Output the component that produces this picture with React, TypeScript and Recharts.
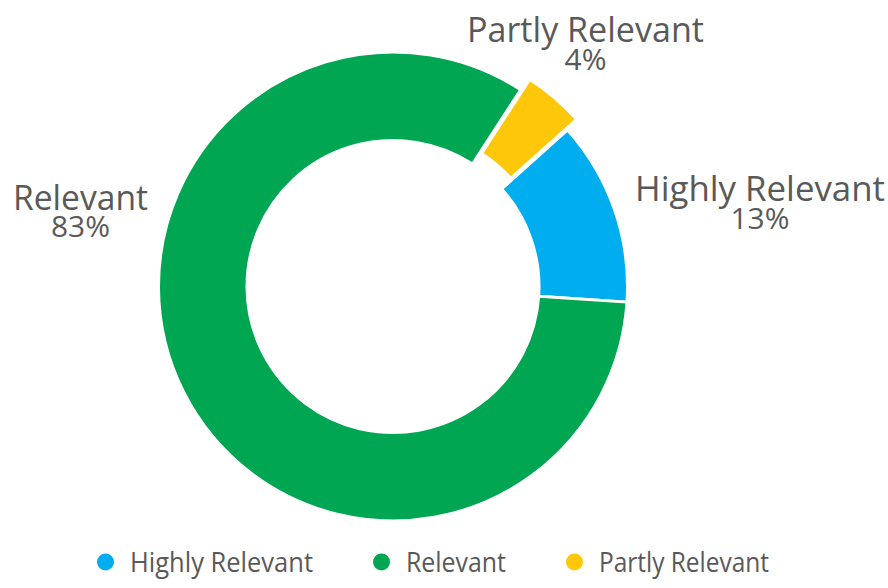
import { PieChart, Pie, Cell, Legend } from 'recharts';

const categories = ['Highly Relevant', 'Relevant', 'Partly Relevant'];
const shares = [12.7, 83.1, 4.2];
const colors = ['#00ADEF', '#00A651', '#FFC709'];
const exploded = [false, false, true];

const data = categories.map((name, i) => ({ name, value: shares[i] }));

const CX = 393;
const CY = 286.5;
const START = 41.9;
const EXPLODE = 14;
const TEXT = '#595959';
const FONT = '"Open Sans", sans-serif';

// label anchors relative to the pie centre (name baseline), plus target text widths
const labelSpots = [
  { dx: 367, dy: -85.5, gap: 28, nameW: 250, pctW: 59 },
  { dx: -312.5, dy: -76.5, gap: 27, nameW: 135, pctW: 59 },
  { dx: 192.5, dy: -244.5, gap: 28, nameW: 237, pctW: 42 },
];

// mid angle of the exploded slice, used to push the second pie outwards
const total = shares.reduce((a, b) => a + b, 0);
const explodedIndex = exploded.indexOf(true);
const before = shares.slice(0, explodedIndex).reduce((a, b) => a + b, 0);
const midAngle = START - ((before + shares[explodedIndex] / 2) / total) * 360;
const rad = (midAngle * Math.PI) / 180;
const offX = EXPLODE * Math.cos(rad);
const offY = -EXPLODE * Math.sin(rad);

const renderLabel = (props: any) => {
  const { cx, cy, index, percent, name } = props;
  const spot = labelSpots[index];
  const x = cx + spot.dx;
  const y = cy + spot.dy;
  return (
    <text x={x} y={y} textAnchor="middle" fill={TEXT} fontFamily={FONT}>
      <tspan x={x} y={y} fontSize={34} textLength={spot.nameW} lengthAdjust="spacingAndGlyphs">
        {name}
      </tspan>
      <tspan
        x={x}
        y={y + spot.gap}
        fontSize={30}
        textLength={spot.pctW}
        lengthAdjust="spacingAndGlyphs"
      >
        {`${Math.round(percent * 100)}%`}
      </tspan>
    </text>
  );
};

const legendWidths = [183, 100, 170];

const renderLegend = () => {
  let x = 97;
  const items = categories.map((name, i) => {
    const dotX = x + 8.5;
    const textX = x + 33;
    x = textX + legendWidths[i] + 60;
    return (
      <g key={name}>
        <circle cx={dotX} cy={22} r={8.5} fill={colors[i]} />
        <text
          x={textX}
          y={32}
          fill={TEXT}
          fontSize={27}
          fontFamily={FONT}
          textLength={legendWidths[i]}
          lengthAdjust="spacingAndGlyphs"
        >
          {name}
        </text>
      </g>
    );
  });
  return (
    <svg width={888} height={48}>
      {items}
    </svg>
  );
};

export default function App() {
  return (
    <div style={{ position: 'absolute', left: 0, top: 0, background: '#fff' }}>
      <PieChart width={888} height={588} margin={{ top: 0, right: 0, bottom: 0, left: 0 }}>
        <Pie
          data={data}
          dataKey="value"
          nameKey="name"
          cx={CX}
          cy={CY}
          innerRadius={146}
          outerRadius={234.5}
          startAngle={START}
          endAngle={START - 360}
          stroke="#ffffff"
          strokeWidth={3}
          label={renderLabel}
          labelLine={false}
          isAnimationActive={false}
        >
          {data.map((d, i) => (
            <Cell
              key={d.name}
              fill={exploded[i] ? 'transparent' : colors[i]}
              stroke={exploded[i] ? 'none' : '#ffffff'}
            />
          ))}
        </Pie>
        <Pie
          data={data}
          dataKey="value"
          nameKey="name"
          cx={CX + offX}
          cy={CY + offY}
          innerRadius={146}
          outerRadius={234.5}
          startAngle={START}
          endAngle={START - 360}
          stroke="#ffffff"
          strokeWidth={3}
          legendType="none"
          isAnimationActive={false}
        >
          {data.map((d, i) => (
            <Cell
              key={d.name}
              fill={exploded[i] ? colors[i] : 'transparent'}
              stroke={exploded[i] ? '#ffffff' : 'none'}
            />
          ))}
        </Pie>
        <Legend
          content={renderLegend}
          wrapperStyle={{ position: 'absolute', left: 0, top: 540, width: 888, height: 48 }}
        />
      </PieChart>
    </div>
  );
}
